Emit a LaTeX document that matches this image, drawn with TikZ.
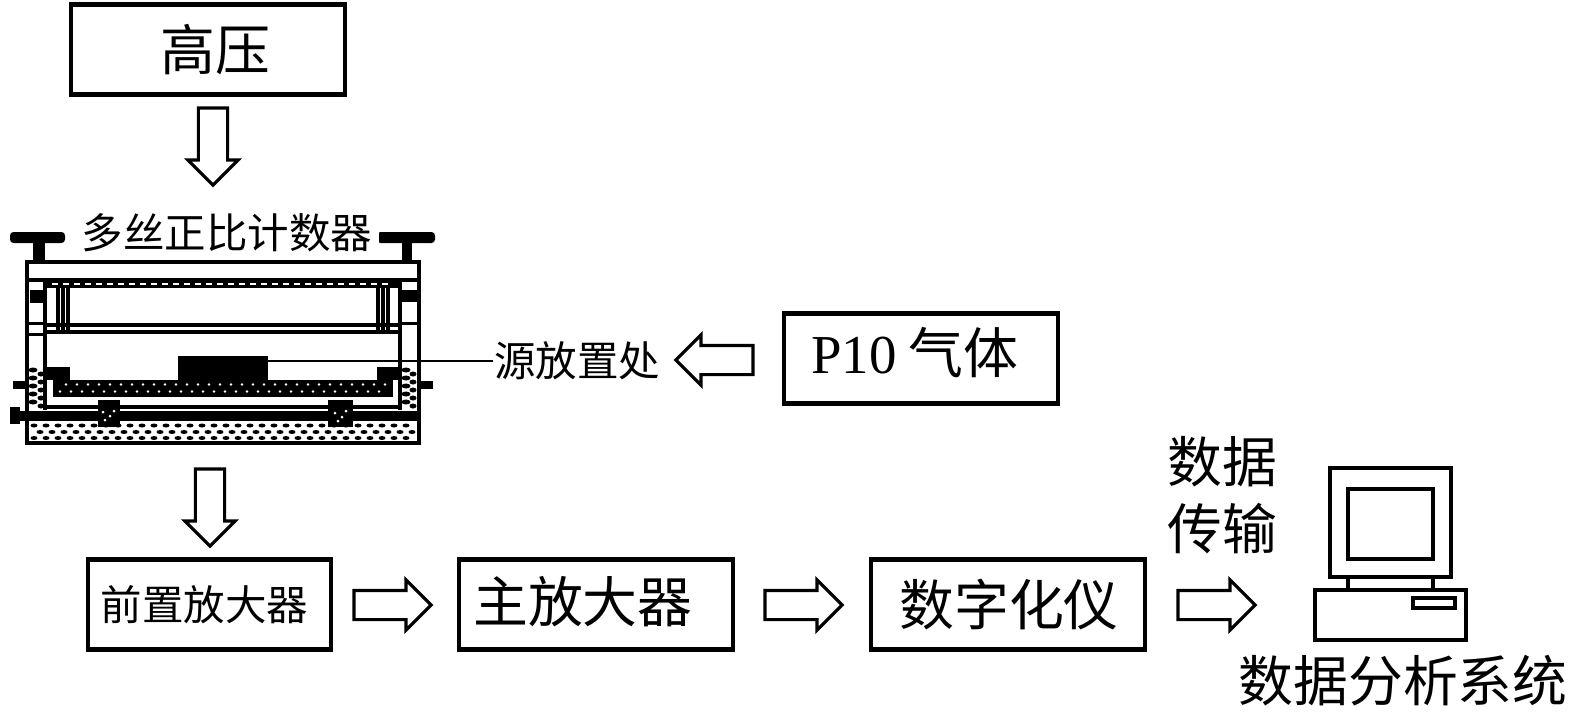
\documentclass[tikz,border=0pt]{standalone}
\usepackage{fontspec}
\setmainfont{Liberation Serif}
\newfontfamily\cjk{Noto Sans CJK SC}
\usetikzlibrary{shapes.arrows}

\begin{document}
\begin{tikzpicture}[
    x=0.01cm,
    y=-0.01cm,
    unitbox/.style={
        rectangle,
        draw=black,
        line width=1.2pt,
        minimum width=2.74cm,
        minimum height=0.9cm,
        inner sep=0pt,
        outer sep=0pt,
        align=center,
        font=\cjk\fontsize{15.6}{18.5}\selectfont
    },
    smalltxt/.style={
        inner sep=0pt,
        align=center,
        font=\cjk\fontsize{11.8}{14}\selectfont
    },
    bigtxt/.style={
        inner sep=0pt,
        align=center,
        font=\cjk\fontsize{15.6}{19}\selectfont
    },
    hollow/.style={
        shape=single arrow,
        draw=black,
        line width=0.9pt,
        fill=white,
        anchor=tail,
        inner xsep=0pt,
        inner ysep=0.13cm,
        outer sep=0pt,
        single arrow head extend=0.105cm,
        single arrow tip angle=90,
        minimum height=0.77cm
    },
    wall/.style={
        line width=1pt
    },
    thickwall/.style={
        line width=1.3pt
    }
]
\useasboundingbox (0,0) rectangle (1575,717);

% =============== CAIXAS ===============

\node[unitbox] (box_hv) at (208,49.5) {\hspace*{0.14cm}高压};
\node[unitbox] (box_gas) at (921,358.5) {\hspace*{-0.12cm}\raisebox{0.16cm}{{\rmfamily P10} 气体}};
\node[unitbox, minimum width=2.43cm, font=\cjk\fontsize{11.8}{14}\selectfont] (box_preamp) at (209.5,604.5) {\hspace*{-0.1cm}前置放大器};
\node[unitbox] (box_amp) at (596,604.5) {\hspace*{-0.26cm}\raisebox{0.1cm}{主放大器}};
\node[unitbox] (box_adc) at (1008,604.5) {\hspace*{0.02cm}数字化仪};

% =============== SETAS ===============

\node[hollow, rotate=-90] (arrow_hv) at (213,108) {};
\node[hollow, rotate=-90] (arrow_pre) at (210,469) {};
\node[hollow, rotate=180] (arrow_gas) at (753,360) {};
\node[hollow] (arrow_amp) at (354,605) {};
\node[hollow] (arrow_adc) at (765,605) {};
\node[hollow] (arrow_pc) at (1178,605) {};

% =============== CONTADOR ===============

% botoes superiores
\fill[rounded corners=1pt] (10,232) rectangle (65,243);
\fill (33,242) rectangle (45,261);
\fill[rounded corners=1pt] (377,232) rectangle (435,243);
\fill (402,242) rectangle (412,261);

% corpo externo
\draw[thickwall] (27,262) rectangle (419,280);
\draw[thickwall] (27,280) -- (27,443) -- (419,443) -- (419,280);
\draw[thickwall] (45,280) -- (45,410);
\draw[thickwall] (400,280) -- (400,410);

% faixa tracejada do topo
\fill (45,280) rectangle (400,288);
\foreach \x in {52,63,...,392} {
    \fill[white] (\x,282.5) rectangle +(6,2);
}

% blocos laterais
\fill (30,290) rectangle (45,303);
\fill (402,290) rectangle (417,302);
\fill (27,322) rectangle (45,325);
\fill (27,333) rectangle (45,336);
\fill (400,322) rectangle (419,325);

% janela interna
\draw[wall] (47,325) -- (398,325);
\draw[wall] (47,332) -- (398,332);
\foreach \x in {58,63,68,378,383,388} {
    \draw[wall] (\x,287) -- (\x,332);
}

% fonte e linha de chamada
\node[fill=black, minimum width=0.9cm, minimum height=0.24cm, inner sep=0pt, outer sep=0pt] (source_block) at (223,368) {};

% bandeja
\fill (53,380) rectangle (393,397);
\fill (45,367) rectangle (70,380);
\fill (377,367) rectangle (400,380);
\foreach \x in {66,77,...,385} {
    \fill[white] (\x,384.5) circle (1.4);
}
\foreach \x in {60,71,...,385} {
    \fill[white] (\x,391.5) circle (1.4);
}

% colunas pontilhadas
\foreach \y in {370,378,386,394,402} {
    \fill (33,\y) ellipse (4.5 and 2.5);
    \fill (41,\y+4) ellipse (3.5 and 2.5);
    \fill (406,\y) ellipse (4.5 and 2.5);
    \fill (413,\y+4) ellipse (3.5 and 2.5);
}

% abas laterais
\fill (13,381) rectangle (27,389);
\fill (419,381) rectangle (433,389);

% base
\draw[wall] (45,407) -- (400,407);
\fill (10,411) rectangle (419,421);
\fill (10,407) rectangle (20,424);
\fill (98,400) rectangle (120,427);
\fill (328,400) rectangle (353,427);
\foreach \x/\y in {103/412,110/416,114/411,105/420,335/413,342/417,346/411,338/421} {
    \fill[white] (\x,\y) circle (1.5);
}
\foreach \x in {34,46,...,412} {
    \fill (\x,425.5) ellipse (3.5 and 2);
    \fill (\x,438) ellipse (3.5 and 2);
}
\foreach \x in {40,52,...,412} {
    \fill (\x,432) ellipse (3.5 and 2);
}

% =============== COMPUTADOR ===============

\draw[thickwall] (1330,468) rectangle (1451,577);
\draw[line width=1.4pt] (1348,489) rectangle (1433,559);
\draw[wall] (1348,577) -- (1348,590);
\draw[wall] (1433,577) -- (1433,590);
\draw[wall] (1315,590) rectangle (1466,640);
\draw[wall] (1413,598) rectangle (1455,608);

% =============== ROTULOS ===============

\node[smalltxt, fill=white, inner xsep=2pt] (label_counter) at (227,233) {多丝正比计数器};
\node[smalltxt] (label_source) at (577,361) {源放置处};
\draw[line width=0.6pt] (label_source.west) -- (label_source.west -| source_block.east);
\node[bigtxt] (label_transfer) at (1222,495) {数据\\传输};
\node[bigtxt] (label_system) at (1403,681) {数据分析系统};

\end{tikzpicture}
\end{document}
